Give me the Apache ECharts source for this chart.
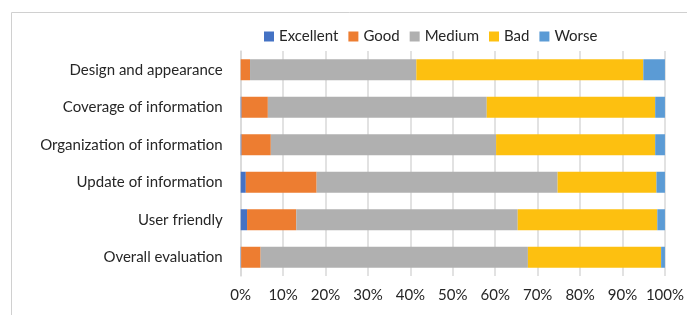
<!DOCTYPE html>
<html>
<head>
<meta charset="utf-8">
<script src="https://cdn.jsdelivr.net/npm/echarts@6/dist/echarts.min.js"></script>
<style>
html, body { margin: 0; padding: 0; background: #fff; }
#main { width: 687px; height: 315px; }
</style>
</head>
<body>
<div id="main"></div>
<script>
var categories = ['Design and appearance', 'Coverage of information', 'Organization of information',
                  'Update of information', 'User friendly', 'Overall evaluation'];
var excellent = [0, 0.2, 0.2, 1.2, 1.5, 0.1];
var good      = [2.2, 6.2, 6.9, 16.7, 11.6, 4.6];
var medium    = [39.2, 51.6, 53.1, 56.8, 52.2, 63.0];
var bad       = [53.5, 39.7, 37.5, 23.3, 32.9, 31.4];
var worse     = [5.1, 2.3, 2.3, 2.0, 1.8, 0.9];
var seriesNames = ['Excellent', 'Good', 'Medium', 'Bad', 'Worse'];

var dom = document.getElementById('main');
var myChart = echarts.init(dom);
var font = 'Lato';

function bar(name, data) {
    return {
        name: name,
        type: 'bar',
        stack: 'total',
        barWidth: 21,
        data: data
    };
}

var option = {
    animation: false,
    color: ['#4472C4', '#ED7D31', '#B0B0B0', '#FDC010', '#5B9BD5'],
    textStyle: { fontFamily: font },
    graphic: [{
        type: 'rect',
        shape: { x: 11.5, y: 12.5, width: 700, height: 320 },
        style: { fill: 'none', stroke: '#d0d0d0', lineWidth: 1 },
        silent: true
    }],
    legend: {
        data: seriesNames,
        left: 259,
        top: 24,
        itemWidth: 10,
        itemHeight: 10,
        itemGap: 10,
        icon: 'rect',
        textStyle: { fontSize: 15, color: '#262626', fontFamily: font }
    },
    grid: {
        left: 240.7,
        right: 17.7,
        top: 51,
        bottom: 39,
        containLabel: false
    },
    xAxis: {
        type: 'value',
        min: 0,
        max: 100,
        interval: 10,
        axisLabel: {
            formatter: '{value}%',
            fontSize: 15,
            color: '#262626',
            margin: 12,
            fontFamily: font
        },
        axisLine: { show: false },
        axisTick: { show: false },
        splitLine: { show: true, lineStyle: { color: '#d9d9d9', width: 1.5 } }
    },
    yAxis: {
        type: 'category',
        inverse: true,
        data: categories,
        axisLabel: { fontSize: 15, color: '#262626', margin: 18, fontFamily: font },
        axisLine: { show: true, lineStyle: { color: '#d9d9d9', width: 1.5 } },
        axisTick: { show: false }
    },
    series: [
        bar('Excellent', excellent),
        bar('Good', good),
        bar('Medium', medium),
        bar('Bad', bad),
        bar('Worse', worse)
    ]
};

myChart.setOption(option, true);
window.addEventListener('resize', function () { myChart.resize(); });
</script>
</body>
</html>
